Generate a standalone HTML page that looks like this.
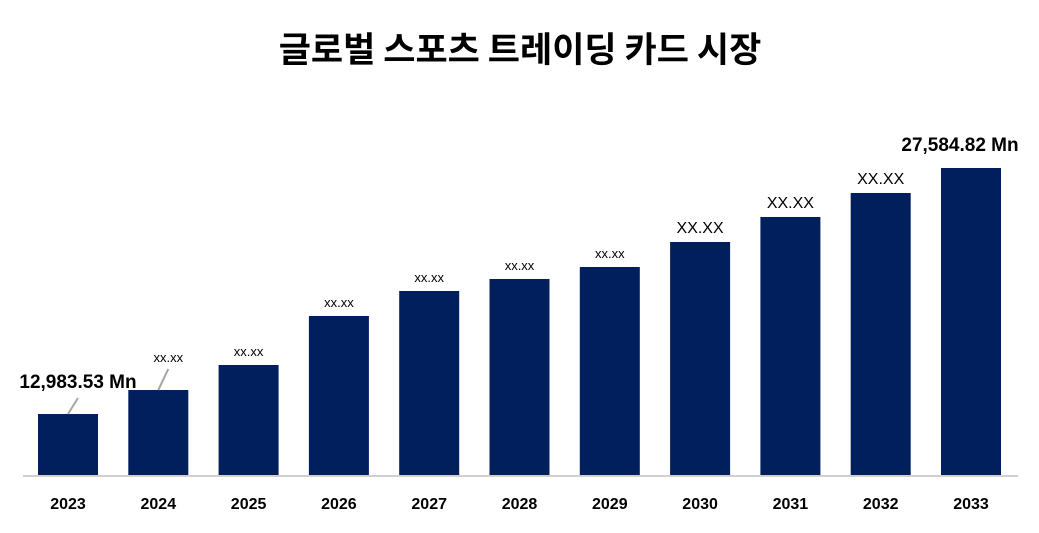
<!DOCTYPE html>
<html><head><meta charset="utf-8">
<style>
body{margin:0;background:#fff;width:1039px;height:528px;overflow:hidden;font-family:"Liberation Sans","Noto Sans CJK KR",sans-serif;}
</style></head>
<body>
<svg id="chart" width="1039" height="528" xmlns="http://www.w3.org/2000/svg" font-family="Liberation Sans, Noto Sans CJK KR, sans-serif">
<text x="520" y="62" text-anchor="middle" font-size="35" font-weight="bold" fill="#000" font-family="Noto Sans CJK KR, sans-serif">글로벌 스포츠 트레이딩 카드 시장</text>
<line x1="23" y1="476" x2="1018" y2="476" stroke="#d0d0d0" stroke-width="2"/>
<g id="bars"></g>
</svg>
<script>
const years = ["2023","2024","2025","2026","2027","2028","2029","2030","2031","2032","2033"];
const values = [12983.53,14408,15892,18800,20284,20996,21708,23193,24676,26101,27584.82];
const valueLabels = ["12,983.53 Mn","xx.xx","xx.xx","xx.xx","xx.xx","xx.xx","xx.xx","XX.XX","XX.XX","XX.XX","27,584.82 Mn"];
const labelSizes = [19,13,13,13,13,13,13,16,16,16,19];

const baseY = 475, v0 = 9362.9, pxPerUnit = 0.016848;
const yScale = v => baseY - (v - v0) * pxPerUnit;
const xScale = i => 38 + i * 90.3;
const barW = 60;
const g = document.getElementById('bars');
const NS = 'http://www.w3.org/2000/svg';
years.forEach((yr, i) => {
  const x = xScale(i), y = yScale(values[i]);
  const r = document.createElementNS(NS, 'rect');
  
  
  r.setAttribute('x', x); r.setAttribute('y', y);
  r.setAttribute('width', barW); r.setAttribute('height', baseY - y);
  r.setAttribute('fill', '#001f5c');
  g.appendChild(r);
  const t = document.createElementNS(NS, 'text');
  
  
  t.setAttribute('x', x + barW / 2); t.setAttribute('y', 509);
  t.setAttribute('text-anchor', 'middle'); t.setAttribute('font-size', '16');
  t.setAttribute('font-weight', 'bold');
  t.textContent = yr;
  g.appendChild(t);
  const l = document.createElementNS(NS, 'text');
  
  
  let lx = x + barW / 2, ly = y - 9;
  if (i === 0) { lx = 78; ly = y - 26; }
  if (i === 1) { lx = x + barW / 2 + 10; ly = y - 28; }
  if (i === 10) { lx = x + barW / 2 - 11; ly = y - 17; }
  l.setAttribute('x', lx); l.setAttribute('y', ly);
  l.setAttribute('text-anchor', 'middle');
  l.setAttribute('font-size', labelSizes[i]);
  if (labelSizes[i] > 17) l.setAttribute('font-weight', 'bold');
  l.textContent = valueLabels[i];
  g.appendChild(l);
  if (i < 2) {
    const ln = document.createElementNS(NS, 'line');
    
    
    ln.setAttribute('x1', x + barW / 2); ln.setAttribute('y1', y);
    ln.setAttribute('x2', x + barW / 2 + 10); ln.setAttribute('y2', y - (i === 0 ? 16 : 21));
    ln.setAttribute('stroke', '#a6a6a6'); ln.setAttribute('stroke-width', '2');
    g.appendChild(ln);
  }
});
</script>
</body></html>
